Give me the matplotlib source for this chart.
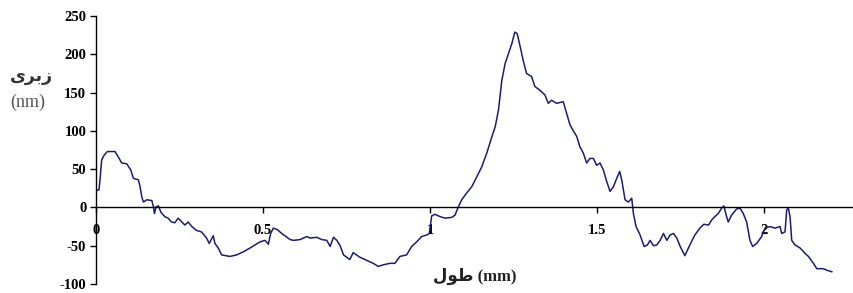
import matplotlib
matplotlib.use("Agg")
import matplotlib.pyplot as plt

# --- data ---
length_mm = [0, 0.009, 0.012, 0.017, 0.024, 0.034, 0.057, 0.064, 0.077, 0.092, 0.104, 0.112,
             0.127, 0.132, 0.137, 0.142, 0.152, 0.167, 0.172, 0.175, 0.18, 0.187, 0.194, 0.206,
             0.216, 0.226, 0.236, 0.246, 0.257, 0.266, 0.276, 0.287, 0.301, 0.316, 0.331, 0.339,
             0.351, 0.356, 0.366, 0.376, 0.401, 0.421, 0.441, 0.461, 0.476, 0.491, 0.506, 0.516,
             0.523, 0.531, 0.543, 0.556, 0.569, 0.581, 0.591, 0.611, 0.631, 0.641, 0.661, 0.676,
             0.691, 0.701, 0.711, 0.721, 0.731, 0.741, 0.760, 0.770, 0.790, 0.810, 0.830, 0.845,
             0.860, 0.880, 0.895, 0.910, 0.930, 0.945, 0.960, 0.975, 0.990, 0.998, 1.005, 1.015,
             1.030, 1.045, 1.065, 1.075, 1.085, 1.095, 1.110, 1.125, 1.140, 1.155, 1.170, 1.185,
             1.195, 1.205, 1.215, 1.225, 1.235, 1.245, 1.254, 1.261, 1.270, 1.279, 1.289, 1.304,
             1.314, 1.329, 1.344, 1.354, 1.364, 1.379, 1.399, 1.409, 1.419, 1.429, 1.439, 1.449,
             1.459, 1.469, 1.479, 1.489, 1.499, 1.509, 1.519, 1.529, 1.539, 1.549, 1.559, 1.568,
             1.574, 1.584, 1.594, 1.604, 1.609, 1.617, 1.629, 1.641, 1.651, 1.659, 1.669, 1.679,
             1.689, 1.699, 1.709, 1.719, 1.729, 1.739, 1.749, 1.763, 1.778, 1.793, 1.808, 1.820,
             1.834, 1.844, 1.853, 1.863, 1.873, 1.880, 1.888, 1.893, 1.903, 1.918, 1.928, 1.938,
             1.948, 1.958, 1.966, 1.978, 1.993, 2.003, 2.018, 2.033, 2.048, 2.053, 2.063, 2.068,
             2.073, 2.078, 2.083, 2.093, 2.108, 2.123, 2.133, 2.148, 2.158, 2.178, 2.188, 2.203]
roughness_nm = [22, 23, 36, 62, 68, 73, 73, 68, 58, 57, 49, 38,
                36, 27, 14, 7, 10, 9, 1, -8, 1, 2, -6, -12,
                -14, -19, -20, -14, -19, -23, -19, -25, -30, -32, -40, -47,
                -37, -47, -53, -62, -64, -62, -58, -53, -49, -45, -43, -48,
                -34, -27, -29, -34, -38, -42, -43, -42, -38, -40, -39, -42,
                -43, -51, -39, -43, -50, -62, -68, -59, -65, -69, -73, -77,
                -75, -73, -73, -64, -62, -51, -45, -38, -36, -34, -11, -9,
                -12, -14, -13, -10, 1, 10, 19, 27, 40, 53, 71, 92,
                105, 127, 166, 188, 201, 214, 229, 227, 210, 192, 175, 171,
                158, 153, 147, 136, 140, 136, 138, 123, 108, 100, 93, 79,
                71, 58, 64, 64, 55, 58, 49, 34, 21, 27, 38, 47,
                36, 10, 7, 12, -8, -25, -36, -51, -49, -43, -50, -49,
                -43, -34, -43, -36, -34, -40, -51, -63, -49, -36, -27, -22,
                -23, -16, -12, -8, -1, 2, -12, -19, -10, -2, -1, -8,
                -19, -43, -51, -47, -38, -27, -25, -27, -25, -34, -32, -3,
                -1, -12, -43, -49, -53, -60, -64, -73, -80, -80, -82, -84]
x_ticks = [0, 0.5, 1, 1.5, 2]
x_tick_labels = ["0", "0.5", "1", "1.5", "2"]
y_ticks = [-100, -50, 0, 50, 100, 150, 200, 250]
y_tick_labels = ["-100", "-50", "0", "50", "100", "150", "200", "250"]

W, H = 854, 293
fig = plt.figure(figsize=(W / 100, H / 100), dpi=100)
ax = fig.add_axes([96 / W, 1 - 284 / H, (W - 96) / W, (284 - 16) / H])

ax.plot(length_mm, roughness_nm, color="#1c1c72", linewidth=1.1)

ax.set_xlim(0, (W - 96) / 334)
ax.set_ylim(-100, 250)

for s in ("top", "right"):
    ax.spines[s].set_visible(False)
ax.spines["bottom"].set_position(("data", 0))
ax.spines["left"].set_linewidth(1.0)
ax.spines["bottom"].set_linewidth(1.0)

serif_bold = dict(family=["Liberation Serif", "DejaVu Serif"], weight="bold", size=10.5)
ax.set_xticks(x_ticks)
ax.set_xticklabels(x_tick_labels, fontdict=serif_bold)
ax.set_yticks(y_ticks)
ax.set_yticklabels(y_tick_labels, fontdict=serif_bold)
ax.tick_params(axis="x", direction="out", length=4, width=1, pad=8)
ax.tick_params(axis="y", direction="out", length=4, width=1, pad=3)

# y label: Persian "زبری" (shaped, visual order) and units
fig.text(31 / W, 1 - 76 / H, "\uFEEF\uFEAE\uFE91\uFEAF", ha="center", va="center",
         family=["DejaVu Sans"], weight="bold", size=12.5, color="#333333")
fig.text(28 / W, 1 - 102 / H, "(nm)", ha="center", va="center",
         family=["Liberation Serif"], size=13, color="#555555")

# x label: Persian "طول (mm)"
fig.text(475 / W, 1 - 276 / H, "\uFEDD\uFEEE\uFEC3 (mm)", ha="center", va="center",
         family=["Liberation Serif", "DejaVu Sans"], weight="bold", size=12, color="#222222")

fig.savefig("out.png", dpi=100)
